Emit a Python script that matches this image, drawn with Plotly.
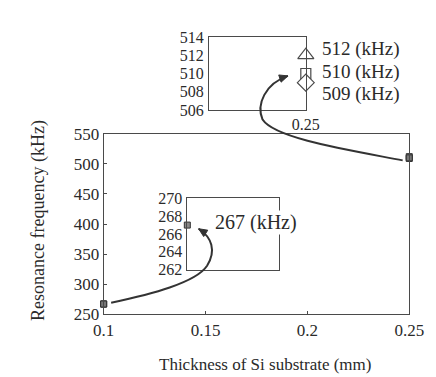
import math
import plotly.graph_objects as go

# ---- data ----
thickness = [0.1, 0.25]                 # mm
freq_triangle = [267, 512]              # kHz
freq_square = [267, 510]                # kHz
freq_diamond = [267, 509]               # kHz
x_ticks = [0.1, 0.15, 0.2, 0.25]
x_tick_labels = ["0.1", "0.15", "0.2", "0.25"]
y_ticks = [250, 300, 350, 400, 450, 500, 550]
upper_ticks = [506, 508, 510, 512, 514]
lower_ticks = [262, 264, 266, 268, 270]

W, H = 436, 377
FONT = "Liberation Serif"
INK = "#2a2a2a"
LINE = "#4a4a4a"

def px(x, y):
    return x / W, 1 - y / H

def dom_x(a, b):
    return [a / W, b / W]

def dom_y(top, bottom):
    return [1 - bottom / H, 1 - top / H]

fig = go.Figure()

# main plot: three series overlapping at the two thicknesses
for vals in (freq_triangle, freq_diamond, freq_square):
    fig.add_trace(go.Scatter(
        x=thickness, y=vals, mode="markers", xaxis="x", yaxis="y",
        marker=dict(symbol="square", size=6, color="#777777", line=dict(color="#333333", width=1)),
        cliponaxis=False, showlegend=False, hoverinfo="skip"))

# upper inset: zoom at 0.25 mm
for vals, sym, size in [(freq_triangle, "triangle-up", 14),
                        (freq_square, "square", 10),
                        (freq_diamond, "diamond", 13)]:
    fig.add_trace(go.Scatter(
        x=[thickness[-1]], y=[vals[-1]], mode="markers", xaxis="x2", yaxis="y2",
        marker=dict(symbol=sym, size=size, color="white", line=dict(color=LINE, width=1.2)),
        cliponaxis=False, showlegend=False, hoverinfo="skip"))

# lower inset: zoom at 0.1 mm
fig.add_trace(go.Scatter(
    x=[thickness[0]], y=[freq_square[0]], mode="markers", xaxis="x3", yaxis="y3",
    marker=dict(symbol="square", size=6, color="#888888", line=dict(color="#333333", width=1)),
    cliponaxis=False, showlegend=False, hoverinfo="skip"))

axis_common = dict(showline=True, linecolor=LINE, linewidth=1, mirror=True,
                   showgrid=False, zeroline=False)

fig.update_layout(
    width=W, height=H,
    margin=dict(l=0, r=0, t=0, b=0),
    paper_bgcolor="white", plot_bgcolor="rgba(0,0,0,0)",
    font=dict(family=FONT, color=INK),
    xaxis=dict(domain=dom_x(90, 415), range=[0.1, 0.25], tickvals=x_ticks,
               ticktext=x_tick_labels, ticks="inside", ticklen=3, tickcolor=LINE,
               tickfont=dict(size=17, family=FONT), anchor="y", **axis_common),
    yaxis=dict(domain=dom_y(123, 313), range=[250, 550], tickvals=y_ticks,
               ticks="inside", ticklen=3, tickcolor=LINE,
               tickfont=dict(size=17, family=FONT), anchor="x", **axis_common),
    xaxis2=dict(domain=dom_x(202, 305), range=[0.2, 0.25], tickvals=[0.25],
                ticktext=["0.25"], ticks="", tickfont=dict(size=16, family=FONT),
                anchor="y2", **axis_common),
    yaxis2=dict(domain=dom_y(21, 98), range=[506, 514], tickvals=upper_ticks,
                ticks="", tickfont=dict(size=16, family=FONT), ticklabelstandoff=1,
                anchor="x2", **axis_common),
    xaxis3=dict(domain=dom_x(179, 277), range=[0.1, 0.15], showticklabels=False,
                ticks="", anchor="y3", **axis_common),
    yaxis3=dict(domain=dom_y(191, 266), range=[262, 270], tickvals=lower_ticks,
                ticks="", tickfont=dict(size=16, family=FONT), ticklabelstandoff=1,
                anchor="x3", **axis_common),
)

# value annotations
ann = []
for vals, ypix in [(freq_triangle, 34), (freq_square, 58), (freq_diamond, 81)]:
    ann.append(dict(x=320 / W, y=1 - ypix / H, xref="paper", yref="paper",
                    text=f"{vals[-1]} (kHz)", showarrow=False, xanchor="left",
                    yanchor="middle", font=dict(size=19, color=INK, family=FONT)))
ann.append(dict(x=207 / W, y=1 - 216 / H, xref="paper", yref="paper",
                text=f"{freq_square[0]} (kHz)", showarrow=False, xanchor="left",
                yanchor="middle", bgcolor="white", borderpad=0,
                font=dict(size=20, color=INK, family=FONT)))
# axis titles
ann.append(dict(x=20 / W, y=1 - 214 / H, xref="paper", yref="paper",
                text="Resonance frequency (kHz)", textangle=-90, showarrow=False,
                xanchor="center", yanchor="middle", font=dict(size=18, color=INK, family=FONT)))
ann.append(dict(x=262 / W, y=1 - 366 / H, xref="paper", yref="paper",
                text="Thickness of Si substrate (mm)", showarrow=False,
                xanchor="center", yanchor="middle", font=dict(size=17, color=INK, family=FONT)))
fig.update_layout(annotations=ann)

# curved arrows (paper coordinates from pixel positions)
def path(points):
    x0, y0 = px(*points[0])
    d = f"M {x0},{y0}"
    rest = points[1:]
    for i in range(0, len(rest), 3):
        c = [px(*p) for p in rest[i:i + 3]]
        d += " C " + " ".join(f"{a},{b}" for a, b in c)
    return d

def head(tip, frm, L=9, Wd=4):
    dx, dy = tip[0] - frm[0], tip[1] - frm[1]
    n = math.hypot(dx, dy)
    ux, uy = dx / n, dy / n
    bx, by = tip[0] - ux * L, tip[1] - uy * L
    p1 = (bx - uy * Wd, by + ux * Wd)
    p2 = (bx + uy * Wd, by - ux * Wd)
    pts = [px(*tip), px(*p1), px(*p2)]
    return "M " + " L ".join(f"{a},{b}" for a, b in pts) + " Z"

lower = [(98, 301), (140, 292), (188, 280), (200, 262), (210, 246), (205, 232), (191, 223)]
upper = [(408, 151), (350, 140), (272, 128), (259, 108), (252, 92), (262, 70), (286, 62)]
shapes = []
for pts in (lower, upper):
    shapes.append(dict(type="path", xref="paper", yref="paper", path=path(pts),
                       line=dict(color="#333333", width=2)))
    shapes.append(dict(type="path", xref="paper", yref="paper",
                       path=head(pts[-1], pts[-2]), fillcolor="#333333",
                       line=dict(color="#333333", width=1)))
fig.update_layout(shapes=shapes)

fig.write_html("out.html")
